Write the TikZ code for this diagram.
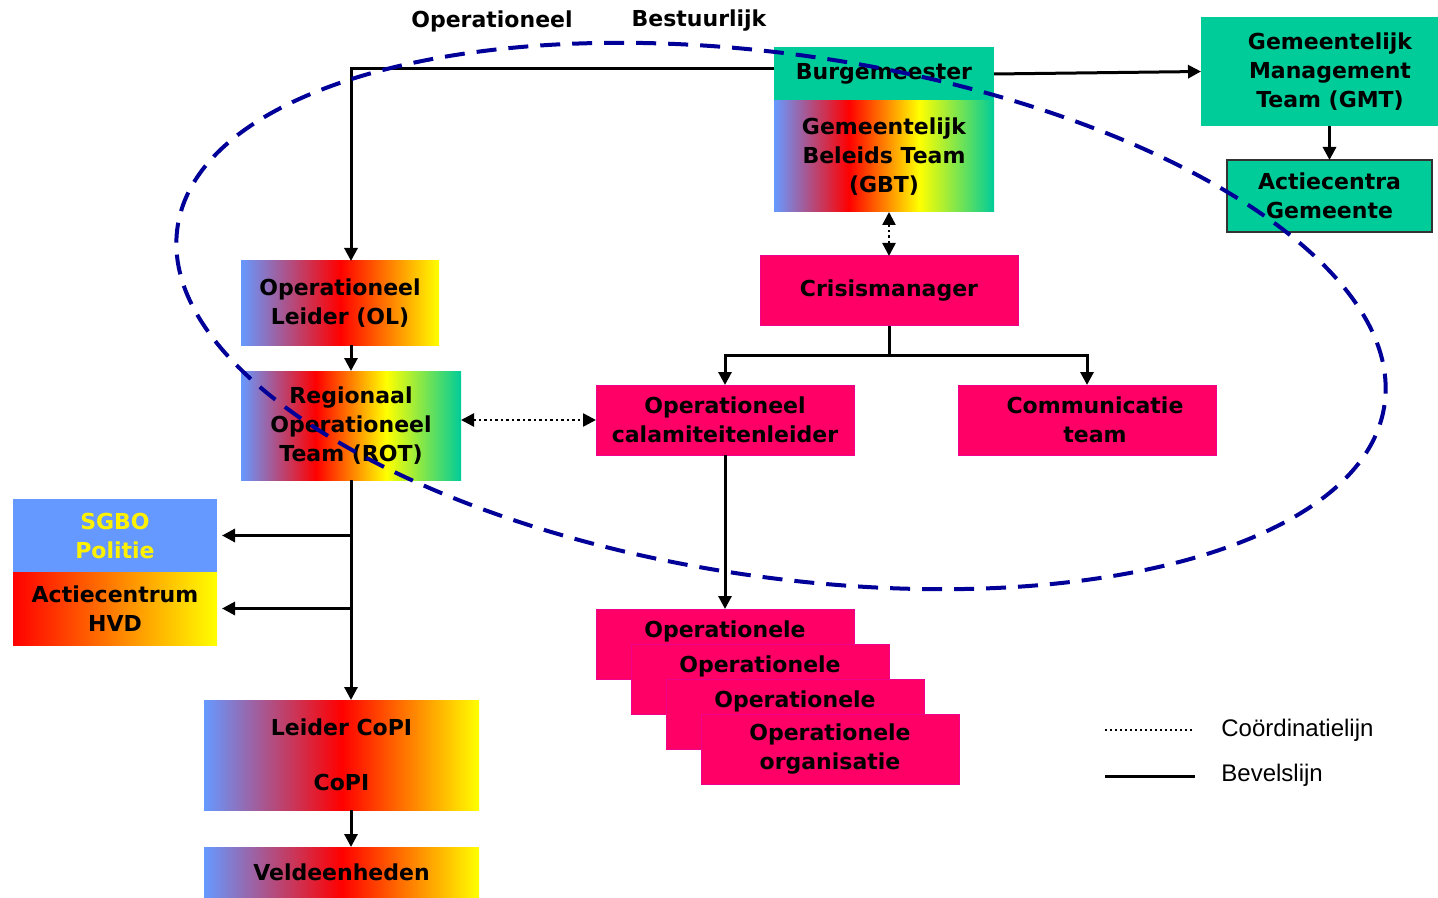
\documentclass[tikz,border=0pt]{standalone}
\usepackage{fontspec}
\setmainfont{DejaVu Sans}
\newfontfamily\legendfont{Liberation Sans}
\usetikzlibrary{arrows.meta}
\definecolor{crisisblue}{HTML}{6699FF}
\definecolor{crisisgreen}{HTML}{00CC99}
\definecolor{crisispink}{HTML}{FF0066}
\definecolor{crisisnavy}{HTML}{000099}
\pgfdeclarehorizontalshading{bryg}{100bp}{color(0bp)=(crisisblue); color(25bp)=(crisisblue); color(42bp)=(red); color(58bp)=(yellow); color(75bp)=(crisisgreen); color(100bp)=(crisisgreen)}
\begin{document}
\begin{tikzpicture}[x=0.5pt, y=-0.5pt,
  font=\fontsize{11}{14.5}\selectfont\bfseries,
  box/.style={inner sep=0pt, outer sep=0pt, align=center},
  gemeente/.style={box, fill=crisisgreen},
  crisis/.style={box, fill=crisispink, draw=magenta, line width=0.5pt, minimum width=129pt, minimum height=35pt},
  kleur/.style={box, left color=crisisblue, right color=yellow, middle color=red},
  team/.style={box, shading=bryg},
  bevel/.style={line width=1.5pt, -{Triangle[length=6.5pt,width=6.5pt]}},
  coord/.style={line width=1.25pt, dash pattern={on 1.25pt off 1.5pt}, {Triangle[length=6.5pt,width=6.5pt]}-{Triangle[length=6.5pt,width=6.5pt]}},
  legend/.style={anchor=west, inner sep=0pt, font=\legendfont\fontsize{12}{14}\selectfont},
  ovaal/.style={line width=2pt, crisisnavy, dash pattern={on 10pt off 6pt}}]
\useasboundingbox (0,0) rectangle (1438,898);

\node (lbop) at (492,21) {Operationeel};
\node (lbbest) at (699,21) {Bestuurlijk};

\node[gemeente, minimum width=110pt, minimum height=27pt] (burg) at (884,74) {Burgemeester};
\node[team, minimum width=110pt, minimum height=55.5pt] (gbt) at (884,156.5) {Gemeentelijk\\ Beleids Team\\ (GBT)};
\node[gemeente, minimum width=129pt, minimum height=54.5pt] (gmt) at (1330,71.5) {Gemeentelijk\\ Management\\ Team (GMT)};
\node[gemeente, draw=black!80, line width=0.75pt, minimum width=102.5pt, minimum height=36pt] (acg) at (1329.5,196) {Actiecentra\\ Gemeente};

\node[kleur, minimum width=99pt, minimum height=42pt] (ol) at (340,303) {Operationeel\\ Leider (OL)};
\node[team, minimum width=110pt, minimum height=54.5pt] (rot) at (351,425.5) {Regionaal\\ Operationeel\\ Team (ROT)};
\node[box, fill=crisisblue, text=yellow, minimum width=102pt, minimum height=36.5pt] (sgbo) at (115,535.5) {SGBO\\ Politie};
\node[box, left color=red, right color=yellow, minimum width=102pt, minimum height=36.5pt] (hvd) at (115,608.5) {Actiecentrum\\ HVD};
\node[kleur, minimum width=137.5pt, minimum height=55pt] (copi) at (341.5,755) {Leider CoPI\\[13pt] CoPI};
\node[kleur, minimum width=137.5pt, minimum height=25.5pt] (veld) at (341.5,872.5) {Veldeenheden};

\node[crisis] (cm) at (889,291) {Crisismanager};
\node[crisis] (cal) at (725,420) {Operationeel\\ calamiteitenleider};
\node[crisis] (comm) at (1087,420) {\hspace*{8pt}Communicatie\\ \hspace*{8pt}team};
\node[crisis] (op1) at (725,644) {Operationele\\ ~};
\node[crisis] (op2) at (760,679) {Operationele\\ ~};
\node[crisis] (op3) at (795,714) {Operationele\\ ~};
\node[crisis] (op4) at (830,749) {Operationele\\ organisatie};

\draw[bevel] ([yshift=2.5pt]burg.west) -| (ol.north -| rot.north);
\draw[bevel] (burg.east) -- (gmt.west);
\draw[bevel] (acg.north |- gmt.south) -- (acg.north);
\draw[coord] (cm.north |- gbt.south) -- (cm.north);
\coordinate (split) at (889,355);
\draw[line width=1.5pt] (cm.south) -- (split);
\draw[bevel] (split) -| (cal.north);
\draw[bevel] (split) -| (comm.north);
\draw[bevel] (rot.north |- ol.south) -- (rot.north);
\draw[coord] (rot.east |- cal.west) -- (cal.west);
\draw[bevel] (cal.south) -- (op1.north);
\draw[bevel] (rot.south) -- (rot.south |- copi.north);
\draw[bevel, shorten >=2.5pt] (rot.south |- sgbo.east) -- (sgbo.east);
\draw[bevel, shorten >=2.5pt] (rot.south |- hvd.east) -- (hvd.east);
\draw[bevel] (rot.south |- copi.south) -- (rot.south |- veld.north);

\coordinate (dotA) at (1105,730);
\coordinate (dotB) at (1195,730);
\coordinate (lineA) at (1105,776);
\coordinate (lineB) at (1195,776);
\draw[line width=1pt, dash pattern={on 1pt off 1.5pt}] (dotA) -- (dotB);
\draw[line width=1.5pt] (lineA) -- (lineB);
\node[legend] (lgcoord) at (1221,730) {Coördinatielijn};
\node[legend] (lgbevel) at (1221,775) {Bevelslijn};

\draw[ovaal, rotate around={-8.4:(781,316)}] (781,316) ellipse [x radius=610, y radius=261];
\end{tikzpicture}
\end{document}
